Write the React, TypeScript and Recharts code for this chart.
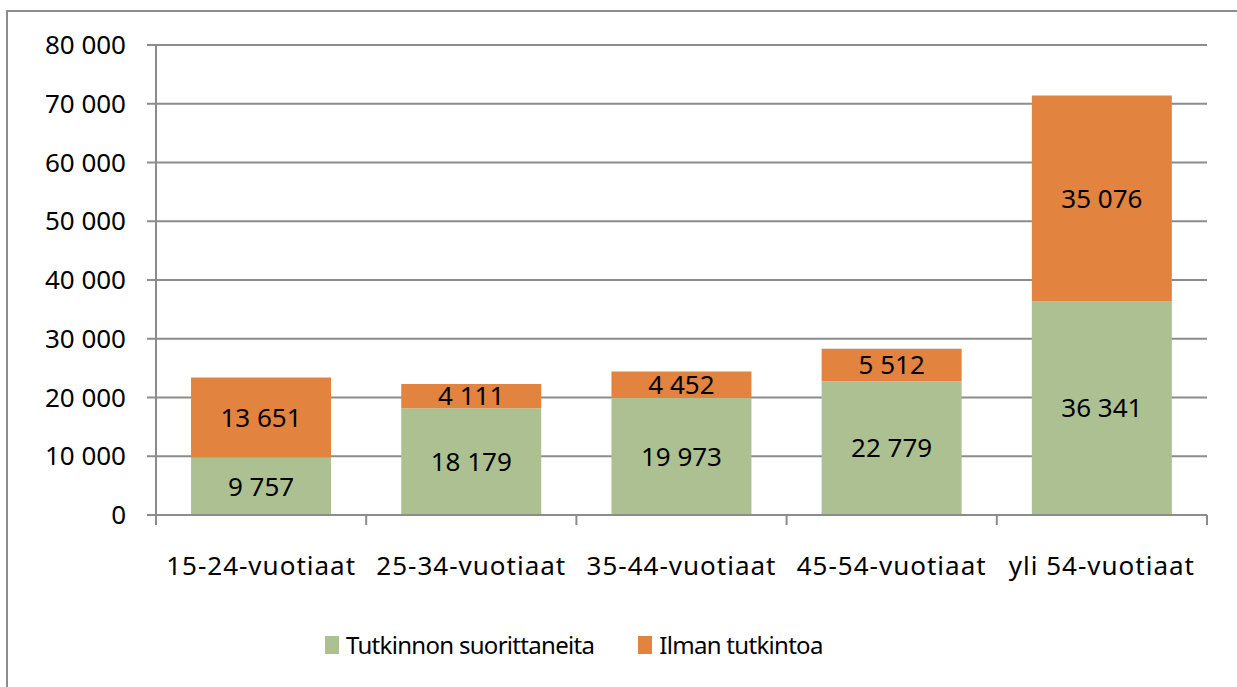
import React from 'react'
import { BarChart, Bar, XAxis, YAxis, CartesianGrid, Legend, LabelList } from 'recharts'

const categories = ['15-24-vuotiaat', '25-34-vuotiaat', '35-44-vuotiaat', '45-54-vuotiaat', 'yli 54-vuotiaat']
const withDegree = [9757, 18179, 19973, 22779, 36341]
const withoutDegree = [13651, 4111, 4452, 5512, 35076]
const yTicks = [0, 10000, 20000, 30000, 40000, 50000, 60000, 70000, 80000]
const seriesNames = ['Tutkinnon suorittaneita', 'Ilman tutkintoa']

const GREEN = '#adc092'
const ORANGE = '#e2833f'
const GRID = '#8c8c8c'
const FONT = '"Noto Sans", "Open Sans", sans-serif'

const data = categories.map((name, i) => ({ name, a: withDegree[i], b: withoutDegree[i] }))

const fmt = (v: any) => String(v).replace(/\B(?=(\d{3})+(?!\d))/g, '\u00a0')

const W = 1237
const H = 687
const PLOT_LEFT = 156
const PLOT_RIGHT = 1207
const band = (PLOT_RIGHT - PLOT_LEFT) / categories.length
const LABEL_GAP = 42

function CatTick({ x, y, payload, index }: any) {
  const left = x - band / 2
  const axisY = y - LABEL_GAP
  return (
    <g>
      <line x1={left} y1={axisY} x2={left} y2={axisY + 10} stroke={GRID} strokeWidth={2} />
      {index === categories.length - 1 && (
        <line x1={x + band / 2} y1={axisY} x2={x + band / 2} y2={axisY + 10} stroke={GRID} strokeWidth={2} />
      )}
      <text x={x} y={y} dy="0.71em" textAnchor="middle" fill="#000" fontSize={26} letterSpacing={1} fontFamily={FONT}>
        {payload.value}
      </text>
    </g>
  )
}

function LegendBox() {
  const items = [
    { name: seriesNames[0], color: GREEN },
    { name: seriesNames[1], color: ORANGE },
  ]
  return (
    <div style={{ display: 'flex', alignItems: 'center', fontFamily: FONT, fontSize: 24, letterSpacing: -0.7, color: '#000' }}>
      {items.map((it, i) => (
        <div key={i} style={{ display: 'flex', alignItems: 'center', marginRight: i === 0 ? 44 : 0 }}>
          <span style={{ display: 'inline-block', width: 14, height: 18, background: it.color, marginRight: 7 }} />
          <span>{it.name}</span>
        </div>
      ))}
    </div>
  )
}

export default function App() {
  return (
    <div style={{ position: 'absolute', left: 0, top: 0, width: W, height: H, overflow: 'hidden', background: '#fff' }}>
      <div style={{ position: 'absolute', left: 6, top: 10, width: W + 20, height: H + 20, border: `2px solid ${GRID}` }} />
      <div style={{ position: 'absolute', left: 0, top: 0 }}>
        <BarChart
          width={W}
          height={H}
          data={data}
          margin={{ top: 45, right: W - PLOT_RIGHT, left: 0, bottom: 20 }}
          barCategoryGap="16.67%"
        >
          <CartesianGrid horizontal vertical={false} stroke={GRID} strokeWidth={2} />
          <XAxis
            dataKey="name"
            height={80}
            axisLine={{ stroke: GRID, strokeWidth: 2 }}
            tickLine={false}
            tickSize={0}
            tickMargin={LABEL_GAP}
            tick={<CatTick />}
            interval={0}
          />
          <YAxis
            width={PLOT_LEFT}
            domain={[0, 80000]}
            ticks={yTicks}
            interval={0}
            tickFormatter={fmt}
            axisLine={{ stroke: GRID, strokeWidth: 2 }}
            tickLine={{ stroke: GRID, strokeWidth: 2 }}
            tickSize={9}
            tickMargin={21}
            tick={{ fill: '#000', fontSize: 26, fontFamily: FONT }}
          />
          <Legend
            verticalAlign="bottom"
            height={72}
            content={<LegendBox />}
            wrapperStyle={{ top: 628, left: 325, width: 600, bottom: 'auto' }}
          />
          <Bar dataKey="a" name={seriesNames[0]} stackId="s" fill={GREEN} isAnimationActive={false}>
            <LabelList dataKey="a" position="center" formatter={fmt} fill="#000" fontSize={26} fontFamily={FONT} />
          </Bar>
          <Bar dataKey="b" name={seriesNames[1]} stackId="s" fill={ORANGE} isAnimationActive={false}>
            <LabelList dataKey="b" position="center" formatter={fmt} fill="#000" fontSize={26} fontFamily={FONT} />
          </Bar>
        </BarChart>
      </div>
    </div>
  )
}
